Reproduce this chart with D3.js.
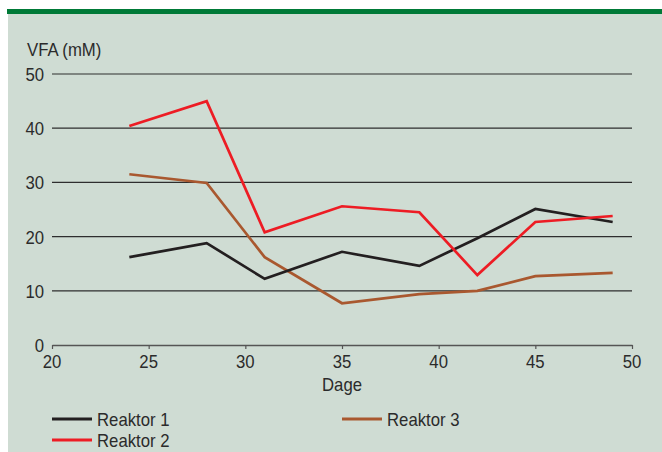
<!DOCTYPE html>
<html>
<head>
<meta charset="utf-8">
<script src="https://cdn.jsdelivr.net/npm/d3@7/dist/d3.min.js"></script>
<style>
  body { margin: 0; background: #fff; }
  svg text { font-family: "Liberation Sans", Arial, sans-serif; fill: #2b2b2b; font-size: 18px; }
</style>
</head>
<body>
<svg id="chart" width="662" height="452"></svg>
<script>
var days = [24, 28, 31, 35, 39, 42, 45, 49];
var reaktor1 = [16.2, 18.8, 12.2, 17.2, 14.6, 19.7, 25.1, 22.7];
var reaktor2 = [40.4, 45.0, 20.8, 25.6, 24.5, 12.9, 22.7, 23.8];
var reaktor3 = [31.5, 29.9, 16.2, 7.7, 9.4, 10.0, 12.7, 13.3];
var seriesNames = ["Reaktor 1", "Reaktor 2", "Reaktor 3"];
var xTicks = [20, 25, 30, 35, 40, 45, 50];
var yTicks = [0, 10, 20, 30, 40, 50];

var colors = ["#231f20", "#ed1c24", "#a9582f"];
var series = [reaktor1, reaktor2, reaktor3];
var NARROW = 0.93; // the source font is a bit condensed

var svg = d3.select("#chart");

// narrow text: place at (x,y) then squeeze horizontally
function label(parent, x, y, txt, anchor) {
    return parent.append("text")
        .attr("transform", "translate(" + x + "," + y + ") scale(" + NARROW + ",1)")
        .attr("text-anchor", anchor || "start")
        .text(txt);
}

// background panel + green top bar
svg.append("rect").attr("x", 8).attr("y", 9).attr("width", 654).attr("height", 443).attr("fill", "#cfdcd3");
svg.append("rect").attr("x", 7).attr("y", 9).attr("width", 655).attr("height", 5).attr("fill", "#007a37");

var x = d3.scaleLinear().domain([20, 50]).range([52, 632]);
var y = d3.scaleLinear().domain([0, 50]).range([345, 74]);

// gridlines
svg.append("g").selectAll("line")
    .data(yTicks.filter(function (d) { return d > 0; }))
    .enter().append("line")
    .attr("x1", x(20)).attr("x2", x(50))
    .attr("y1", function (d) { return y(d); })
    .attr("y2", function (d) { return y(d); })
    .attr("stroke", "#2e2e2e").attr("stroke-width", 1.2);

// y labels
var gy = svg.append("g");
yTicks.forEach(function (d) { label(gy, 44, y(d) + 7, d, "end"); });

// x axis
var xAxis = d3.axisBottom(x).tickValues(xTicks).tickSizeInner(4).tickSizeOuter(0).tickFormat("");
var gx = svg.append("g").attr("transform", "translate(0," + y(0) + ")").call(xAxis);
gx.select(".domain").attr("stroke", "#555").attr("stroke-width", 1.5);
gx.selectAll(".tick line").attr("stroke", "#555").attr("stroke-width", 1.2);
var gxl = svg.append("g");
xTicks.forEach(function (d) { label(gxl, x(d), 368, d, "middle"); });

label(svg, x(35), 391, "Dage", "middle");
label(svg, 27, 56, "VFA (mM)");

// lines
var line = d3.line()
    .x(function (d, i) { return x(days[i]); })
    .y(function (d) { return y(d); });

svg.append("g").selectAll("path")
    .data([series[2], series[0], series[1]])
    .enter().append("path")
    .attr("d", line)
    .attr("fill", "none")
    .attr("stroke", function (d) { return colors[series.indexOf(d)]; })
    .attr("stroke-width", 2.7)
    .attr("stroke-linejoin", "miter");

// legend (second row nudged up so its label stays inside the frame)
var legendPos = [[52, 419], [52, 440], [342, 419]];
seriesNames.forEach(function (name, i) {
    var g = svg.append("g").attr("transform", "translate(" + legendPos[i][0] + "," + legendPos[i][1] + ")");
    g.append("line").attr("x1", 0).attr("x2", 40).attr("y1", 0).attr("y2", 0)
        .attr("stroke", colors[i]).attr("stroke-width", 3);
    label(g, 45, 6.5, name);
});
</script>
</body>
</html>
